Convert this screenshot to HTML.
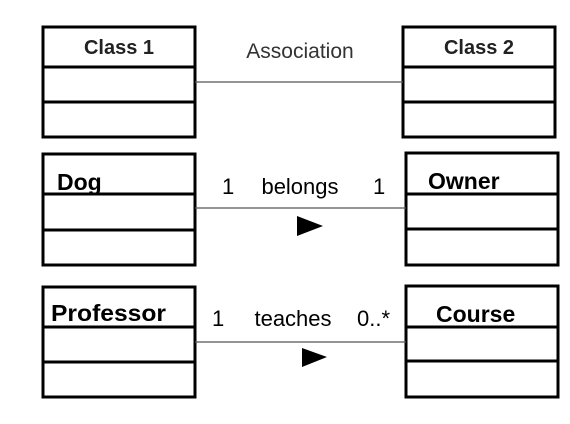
<!DOCTYPE html>
<html><head><style>html,body{margin:0;padding:0;background:#fff;width:570px;height:424px;overflow:hidden}</style></head>
<body>
<svg width="570" height="424" xmlns="http://www.w3.org/2000/svg">
<g fill="none" stroke="#000" stroke-width="3">
<rect x="43" y="27" width="152" height="110"/><line x1="43" y1="67" x2="195" y2="67"/><line x1="43" y1="102" x2="195" y2="102"/>
<rect x="403" y="27" width="152" height="110"/><line x1="403" y1="67" x2="555" y2="67"/><line x1="403" y1="102" x2="555" y2="102"/>
<rect x="43" y="154" width="152" height="111"/><line x1="43" y1="194" x2="195" y2="194"/><line x1="43" y1="230" x2="195" y2="230"/>
<rect x="406" y="153" width="152" height="112"/><line x1="406" y1="194" x2="558" y2="194"/><line x1="406" y1="229" x2="558" y2="229"/>
<rect x="43" y="287" width="152" height="110"/><line x1="43" y1="327" x2="195" y2="327"/><line x1="43" y1="362" x2="195" y2="362"/>
<rect x="406" y="286" width="152" height="111"/><line x1="406" y1="327" x2="558" y2="327"/><line x1="406" y1="361" x2="558" y2="361"/>
</g>
<g stroke="#555" stroke-width="1.2">
<line x1="195" y1="82" x2="403" y2="82"/>
<line x1="195" y1="208" x2="406" y2="208"/>
<line x1="195" y1="342" x2="406" y2="342"/>
</g>
<polygon points="297,216 323,226 297,236" fill="#000"/>
<polygon points="302,348 327,357 302,367" fill="#000"/>
<g font-family="Liberation Sans, sans-serif">
<text x="119" y="54" font-size="20" font-weight="bold" text-anchor="middle" fill="#222">Class 1</text>
<text x="479" y="54" font-size="20" font-weight="bold" text-anchor="middle" fill="#222">Class 2</text>
<text x="300" y="58" font-size="21" text-anchor="middle" fill="#333">Association</text>
<text x="57" y="190" font-size="23" font-weight="bold">Dog</text>
<text x="428" y="189" font-size="23" font-weight="bold">Owner</text>
<text x="51" y="321" font-size="23" font-weight="bold" textLength="115" lengthAdjust="spacingAndGlyphs">Professor</text>
<text x="436" y="322" font-size="23" font-weight="bold">Course</text>
<text x="222" y="194" font-size="22">1</text>
<text x="300" y="194" font-size="22" text-anchor="middle">belongs</text>
<text x="373" y="194" font-size="22">1</text>
<text x="212" y="326" font-size="22">1</text>
<text x="293" y="326" font-size="22" text-anchor="middle">teaches</text>
<text x="357" y="326" font-size="22">0..*</text>
</g>
</svg>
</body></html>
